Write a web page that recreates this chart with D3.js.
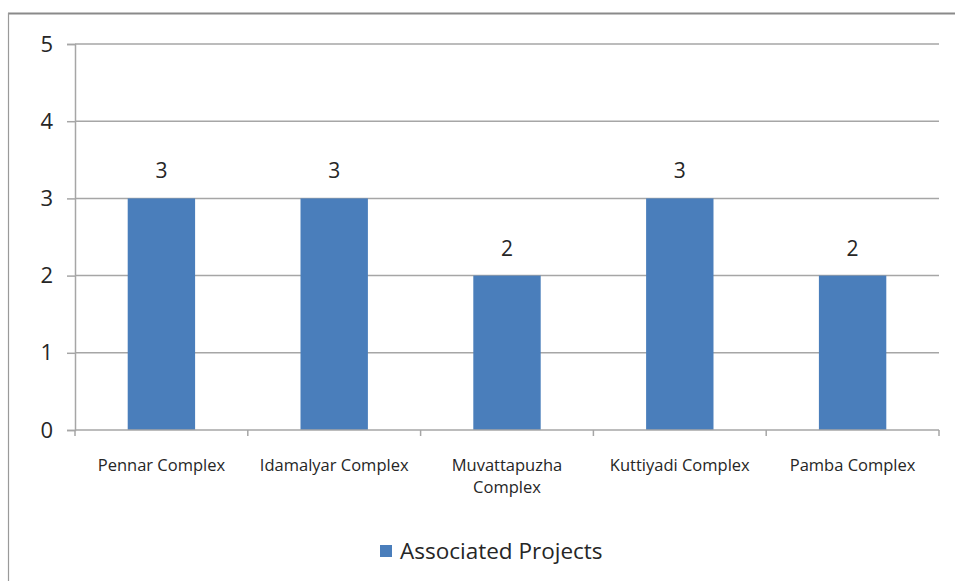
<!DOCTYPE html>
<html>
<head>
<meta charset="utf-8">
<script src="https://cdn.jsdelivr.net/npm/d3@7"></script>
<style>
  html, body { margin: 0; padding: 0; background: #fff; }
  svg { display: block; font-family: "Open Sans", Lato, sans-serif; }
</style>
</head>
<body>
<svg id="chart" width="955" height="581"></svg>
<script>
// Associated projects per river complex
const categories = [["Pennar Complex"], ["Idamalyar Complex"], ["Muvattapuzha", "Complex"], ["Kuttiyadi Complex"], ["Pamba Complex"]];
const values = [3, 3, 2, 3, 2];
const yTicks = [0, 1, 2, 3, 4, 5];
const seriesName = "Associated Projects";

const svg = d3.select("#chart");
const margin = { left: 75, right: 16, top: 44, bottom: 151 };
const W = 955, H = 581;
const barColor = "#4a7ebb";
const gridColor = "#a6a6a6";
const textColor = "#262626";

// outer frame (top and left edges)
svg.append("line").attr("x1", 8).attr("x2", W).attr("y1", 13.5).attr("y2", 13.5)
  .attr("stroke", "#8a8a8a").attr("stroke-width", 2);
svg.append("line").attr("x1", 8.5).attr("x2", 8.5).attr("y1", 13).attr("y2", H)
  .attr("stroke", "#9a9a9a").attr("stroke-width", 1.2);

const x = d3.scaleBand()
  .domain(categories.map((c, i) => i))
  .range([margin.left, W - margin.right])
  .paddingInner(0.61).paddingOuter(0.305);

const y = d3.scaleLinear().domain([0, 5]).range([H - margin.bottom, margin.top]);

// horizontal gridlines
svg.append("g").selectAll("line").data(yTicks.filter(d => d > 0)).join("line")
  .attr("x1", margin.left).attr("x2", W - margin.right)
  .attr("y1", d => y(d)).attr("y2", d => y(d))
  .attr("stroke", gridColor).attr("stroke-width", 1.5);

// y axis
const yAxis = svg.append("g").attr("transform", `translate(${margin.left},0)`)
  .call(d3.axisLeft(y).tickValues(yTicks).tickSize(8).tickPadding(14).tickFormat(d3.format("d")));
yAxis.select(".domain").attr("stroke", gridColor).attr("stroke-width", 1.5);
yAxis.selectAll(".tick line").attr("stroke", gridColor).attr("stroke-width", 1.5);
yAxis.selectAll(".tick text").attr("font-size", 22).attr("fill", textColor)
  .attr("font-family", "'Open Sans', sans-serif");

// bars
svg.append("g").selectAll("rect").data(values).join("rect")
  .attr("x", (d, i) => x(i)).attr("width", x.bandwidth())
  .attr("y", d => y(d)).attr("height", d => y(0) - y(d))
  .attr("fill", barColor);

// x axis baseline with category dividers
const step = x.step();
const bounds = d3.range(categories.length + 1).map(i => margin.left + i * step);
svg.append("line").attr("x1", margin.left).attr("x2", W - margin.right)
  .attr("y1", y(0)).attr("y2", y(0)).attr("stroke", gridColor).attr("stroke-width", 1.5);
svg.append("g").selectAll("line").data(bounds).join("line")
  .attr("x1", d => d).attr("x2", d => d)
  .attr("y1", y(0)).attr("y2", y(0) + 6)
  .attr("stroke", gridColor).attr("stroke-width", 1.5);

// value labels
svg.append("g").selectAll("text").data(values).join("text")
  .attr("x", (d, i) => x(i) + x.bandwidth() / 2)
  .attr("y", d => y(d) - 20)
  .attr("text-anchor", "middle").attr("font-size", 21).attr("fill", textColor)
  .text(d => d);

// category labels
const cat = svg.append("g").selectAll("text").data(categories).join("text")
  .attr("x", (d, i) => x(i) + x.bandwidth() / 2)
  .attr("y", y(0) + 41)
  .attr("text-anchor", "middle").attr("font-size", 16.5).attr("fill", textColor);
cat.selectAll("tspan").data(d => d).join("tspan")
  .attr("x", function () { return d3.select(this.parentNode).attr("x"); })
  .attr("dy", (d, i) => i === 0 ? 0 : 22)
  .text(d => d);

// legend
const legend = svg.append("g").attr("transform", "translate(380,545)");
legend.append("rect").attr("width", 12).attr("height", 12).attr("fill", barColor);
legend.append("text").attr("x", 20).attr("y", 14).attr("font-size", 22.5).attr("fill", textColor)
  .text(seriesName);
</script>
</body>
</html>
